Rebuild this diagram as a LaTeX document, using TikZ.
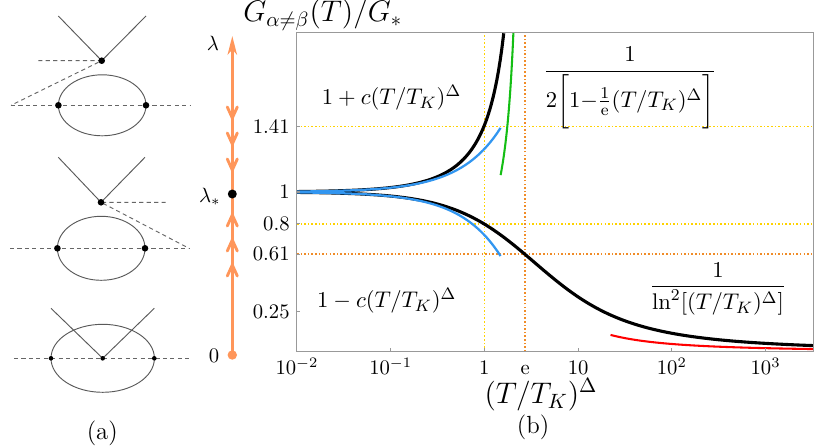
\documentclass[tikz,border=0pt]{standalone}
\usepackage{amsmath}
\usetikzlibrary{arrows.meta}
\definecolor{flow}{RGB}{255,150,90}
\definecolor{gold}{RGB}{255,210,0}
\definecolor{dotorange}{RGB}{240,140,40}
\definecolor{fitblue}{RGB}{50,150,240}
\definecolor{fitgreen}{RGB}{20,190,20}
\tikzset{
	prop/.style={black!65, line width=0.45pt},
	ghost/.style={black!60, line width=0.45pt, dash pattern=on 2pt off 1.6pt},
	flowline/.style={flow, line width=1.4pt, line cap=round, line join=round},
	guide/.style={line width=0.75pt, dash pattern=on 0.75pt off 1pt},
	frame/.style={black!40, line width=0.5pt},
	fitlabel/.style={font=\fontsize{11}{13}\selectfont}
}

\begin{document}
\begin{tikzpicture}[x=0.017cm, y=-0.017cm]
			%%%%% START %%%%%
			\useasboundingbox (0,0) rectangle (814,447);
			
			% (a) top diagram
			\draw[prop] (58.3,16) -- (101.7,60.7) -- (146,16);
			\draw[ghost] (38.3,60.7) -- (101.7,60.7) -- (11,105.3);
			\draw[ghost] (11,105.3) -- (190,105.3);
			\draw[prop] (102.2,105.3) ellipse (43.8 and 30.5);
			\fill (101.7,60.7) circle (3.3);
			\fill (58.4,105.3) circle (3.3);
			\fill (146,105.3) circle (3.3);
			
			% (a) middle diagram
			\draw[prop] (58.3,157.3) -- (101,202.3) -- (145,157.3);
			\draw[ghost] (165.7,202.3) -- (101,202.3) -- (189,248.3);
			\draw[ghost] (10,248.3) -- (189,248.3);
			\draw[prop] (101.2,248.3) ellipse (43.8 and 32);
			\fill (101,202.3) circle (3.3);
			\fill (57.4,248.3) circle (3.3);
			\fill (145,248.3) circle (3.3);
			
			% (a) bottom diagram
			\draw[prop] (102.7,358.3) ellipse (51.7 and 34);
			\draw[prop] (51,308.3) -- (102.7,358.3) -- (154.3,308.3);
			\draw[ghost] (14,358.3) -- (189.3,358.3);
			\fill (51,358.3) circle (2.3);
			\fill (102.7,358.3) circle (2.3);
			\fill (154.3,358.3) circle (2.3);
			
			\node[font=\large] (capa) at (102.3,433) {(a)};
			
			% flow of lambda
			\draw[flowline, -{Stealth[length=9pt,width=4.5pt,inset=2.5pt]}] (232.3,355) -- (232.3,36);
			\foreach \ty in {118,144,170}
				\draw[flowline] (227.3,\ty-11) -- (232.3,\ty) -- (237.3,\ty-11);
			\foreach \ty in {215,240,265}
				\draw[flowline] (227.3,\ty+11) -- (232.3,\ty) -- (237.3,\ty+11);
			\fill[flow] (232.3,355) circle (4.7);
			\fill (232.3,194) circle (4.5);
			
			\node (lam) at (213,43) {$\lambda$};
			\node[anchor=east] (lamstar) at (228,197) {$\lambda_*$};
			\node (lamzero) at (214,356) {$0$};
			
			% (b) plot, x = log10 of (T/T_K)^Delta, y = G/G_*
			\begin{scope}[shift={(484.4,351.5)}, x=1.593cm, y=2.7115cm]
				\draw[gold, guide] (0,0) -- (0,2);
				\draw[gold, guide] (-2,1.41) -- (3.507,1.41);
				\draw[gold, guide] (-2,0.8) -- (3.507,0.8);
				\draw[dotorange, guide] (0.4343,0) -- (0.4343,2);
				\draw[dotorange, guide] (-2,0.61) -- (3.507,0.61);
				
				\begin{scope}
					\clip (-2,0) rectangle (3.507,2);
					\draw[line width=1.5pt] plot[domain=-2:0.2071, samples=120] (\x, {1/(1-0.27*pow(10,\x)-0.025*pow(10,2*\x))});
					\draw[line width=1.5pt] plot[domain=-2:3.507, samples=160] (\x, {1/(1+0.657*ln(1+0.4*pow(10,\x))+0.45*(ln(1+0.3*pow(10,\x)))^2)});
					\draw[fitblue, line width=1.1pt] plot[domain=-2:0.173, samples=60] (\x, {1+0.27*pow(10,\x)});
					\draw[fitblue, line width=1.1pt] plot[domain=-2:0.173, samples=60] (\x, {1-0.27*pow(10,\x)});
					\draw[fitgreen, line width=1pt] plot[domain=0.173:0.3095, samples=40] (\x, {1/(2*(1-pow(10,\x)/2.71828))});
					\draw[red, line width=1pt] plot[domain=1.346:3.507, samples=60] (\x, {1/((2.302585*\x)^2)});
				\end{scope}
				
				\draw[frame] (-2,0) rectangle (3.507,2);
				\foreach \u in {-1,0,1,2,3}
					\draw[frame] (\u,0) -- (\u,0.019);
				\foreach \g in {0.25,0.61,0.8,1,1.41}
					\draw[frame] (-2,\g) -- (-1.968,\g);
				
				\foreach \u/\lab in {-2/10^{-2}, -1/10^{-1}, 0/1, 0.4343/\mathrm{e}, 1/10, 2/10^{2}, 3/10^{3}}
					\node[anchor=base] (xt\u) at (\u,-0.147) {$\lab$};
				\foreach \g in {0.25,0.61,0.8,1,1.41}
					\node[anchor=east] (yt\g) at (-2,\g) {$\g$};
			\end{scope}
			
			\node[font=\Large, anchor=west] (ylab) at (236,15) {$G_{\alpha\neq\beta}(T)/G_*$};
			\node[font=\Large, inner sep=0pt] (xlab) at (541,395) {$(T/T_K)^\Delta$};
			\node[font=\large] (capb) at (533,427) {(b)};
			
			\node[fitlabel] (upfit) at (391.5,98) {$1+c(T/T_K)^\Delta$};
			\node[fitlabel] (lowfit) at (386.7,301) {$1-c(T/T_K)^\Delta$};
			\node[fitlabel] (polefit) at (630,88) {$\dfrac{1}{2\biggl[1{-}\frac{1}{\mathrm{e}}(T/T_K)^\Delta\biggr]}$};
			\node[fitlabel] (logfit) at (718,289) {$\dfrac{1}{\ln^2[(T/T_K)^\Delta]}$};
			
			%%%%% END %%%%%
\end{tikzpicture}
\end{document}
